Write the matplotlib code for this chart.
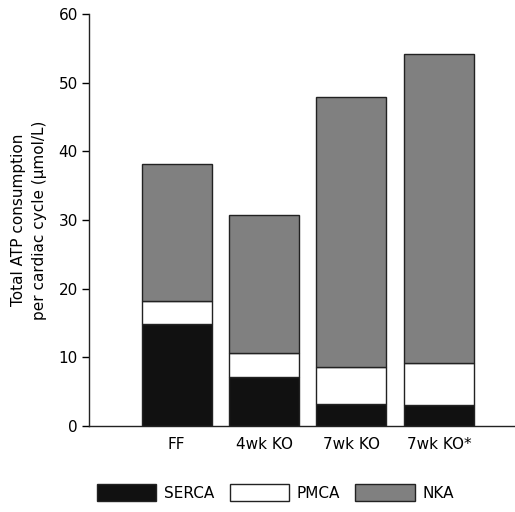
import matplotlib
matplotlib.use("Agg")
import matplotlib.pyplot as plt
import numpy as np

plt.rcParams['font.family'] = ['DejaVu Sans']

groups = ["FF", "4wk KO", "7wk KO", "7wk KO*"]
serca = [14.8, 7.15, 3.15, 3.0]
pmca = [3.4, 3.4, 5.35, 6.15]
nka = [19.9, 20.15, 39.5, 45.05]
components = ["SERCA", "PMCA", "NKA"]
colors = ["#111111", "#ffffff", "#808080"]
fs = 11

fig = plt.figure(figsize=(5.15, 5.12), dpi=100)
ax = fig.add_axes([0.173, 0.1686, 0.827, 0.8034])

x = np.arange(len(groups))
bottom = np.zeros(len(groups))
handles = []
for vals, col, name in zip([serca, pmca, nka], colors, components):
    h = ax.bar(x, vals, width=0.8, bottom=bottom, color=col,
               edgecolor="#222222", linewidth=1.0, label=name)
    handles.append(h)
    bottom += np.array(vals)

ax.set_xlim(-1.0, 3.87)
ax.set_ylim(0, 60)
ax.set_yticks(range(0, 61, 10))
ax.set_xticks(x)
ax.set_xticklabels(groups, fontsize=fs)
ax.tick_params(axis='x', length=0, pad=8)
ax.tick_params(axis='y', labelsize=fs, length=5, width=1, direction='out', pad=3)
for s in ["top", "right"]:
    ax.spines[s].set_visible(False)
for s in ["left", "bottom"]:
    ax.spines[s].set_linewidth(1.0)
    ax.spines[s].set_color("#222222")
ax.set_ylabel("Total ATP consumption\nper cardiac cycle (\u03bcmol/L)", fontsize=fs,
              labelpad=8, linespacing=1.5)

fig.legend(handles=handles, labels=components, loc="center", ncol=3,
           bbox_to_anchor=(0.535, 0.038), frameon=False, fontsize=fs,
           handlelength=3.9, handleheight=1.3, handletextpad=0.5,
           columnspacing=1.0)

fig.savefig("out.png", dpi=100)
